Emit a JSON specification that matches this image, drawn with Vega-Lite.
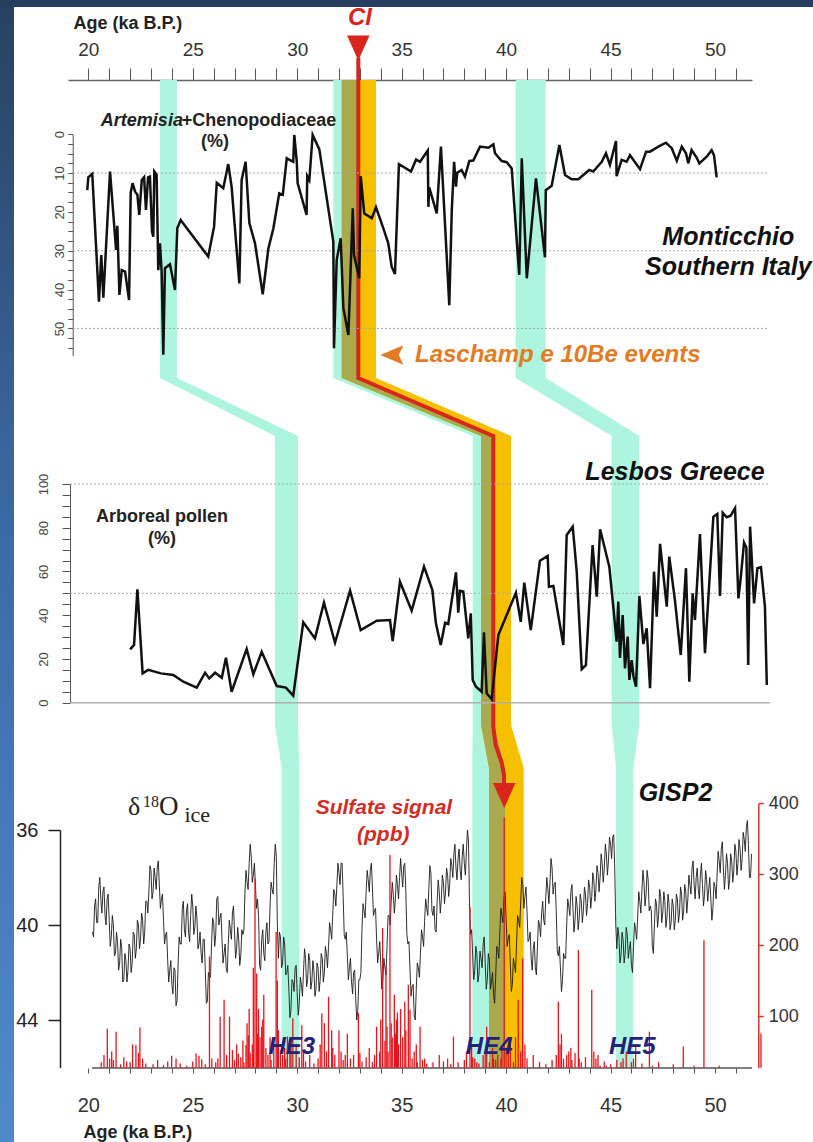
{
"$schema":"https://vega.github.io/schema/vega-lite/v6.json",
"width":684,"height":988,"autosize":"none",
"padding":{"left":68,"top":80,"right":61,"bottom":74},
"background":"white",
"config":{"view":{"stroke":null},"font":"Liberation Sans"},
"resolve":{"scale":{"x":"independent","y":"independent"},"axis":{"x":"independent","y":"independent"}},
"datasets":{
"frameLeft":[{"fx":0,"fx2":14,"fy":0,"fy2":1142}],
"frameTop":[{"fx":0,"fx2":813,"fy":0,"fy2":7}],
"bands":[
{"band":"HE3","fy":80,"a":23.432,"a2":24.246},{"band":"HE3","fy":378,"a":23.432,"a2":24.246},{"band":"HE3","fy":436,"a":28.937,"a2":30.038},{"band":"HE3","fy":725,"a":28.937,"a2":30.038},{"band":"HE3","fy":768,"a":29.258,"a2":30.101},{"band":"HE3","fy":1068,"a":29.258,"a2":30.101},
{"band":"HE4","fy":80,"a":31.728,"a2":32.958},{"band":"HE4","fy":378,"a":31.728,"a2":32.958},{"band":"HE4","fy":436,"a":38.401,"a2":39.421},{"band":"HE4","fy":725,"a":38.401,"a2":39.421},{"band":"HE4","fy":768,"a":38.382,"a2":39.947},{"band":"HE4","fy":1068,"a":38.382,"a2":39.947},
{"band":"HE5","fy":80,"a":40.46,"a2":41.896},{"band":"HE5","fy":378,"a":40.46,"a2":41.896},{"band":"HE5","fy":436,"a":45.055,"a2":46.376},{"band":"HE5","fy":725,"a":45.055,"a2":46.376},{"band":"HE5","fy":768,"a":45.261,"a2":46.089},{"band":"HE5","fy":1068,"a":45.261,"a2":46.089},
{"band":"Laschamp","fy":80,"a":32.13,"a2":33.772},{"band":"Laschamp","fy":378,"a":32.13,"a2":33.772},{"band":"Laschamp","fy":436,"a":38.8,"a2":40.236},{"band":"Laschamp","fy":725,"a":38.8,"a2":40.236},{"band":"Laschamp","fy":768,"a":39.182,"a2":40.843},{"band":"Laschamp","fy":1068,"a":39.182,"a2":40.843},
{"band":"overlap","fy":80,"a":32.13,"a2":32.958},{"band":"overlap","fy":378,"a":32.13,"a2":32.958},{"band":"overlap","fy":436,"a":38.8,"a2":39.421},{"band":"overlap","fy":725,"a":38.8,"a2":39.421},{"band":"overlap","fy":768,"a":39.182,"a2":39.947},{"band":"overlap","fy":1068,"a":39.182,"a2":39.947}
],
"ciLine":[{"a":32.925,"fy":58},{"a":32.925,"fy":378},{"a":39.387,"fy":436},{"a":39.387,"fy":727},{"a":39.5,"fy":745},{"a":39.78,"fy":762},{"a":39.9,"fy":775},{"a":39.9,"fy":790}],
"ciArrows":[{"a":32.925,"fy":48},{"a":39.91,"fy":795.5}],
"lasArrow":[{"a":34.53,"fy":355}],
"monticchio":[
{"a":19.95,"v":14.4},{"a":20.0,"v":11.1},{"a":20.19,"v":10.2},{"a":20.51,"v":43.1},{"a":20.62,"v":31.1},{"a":20.72,"v":42.1},{"a":21.04,"v":9.6},{"a":21.33,"v":29.8},{"a":21.39,"v":23.6},{"a":21.49,"v":41.4},{"a":21.6,"v":35.0},{"a":21.76,"v":35.4},{"a":21.95,"v":42.7},{"a":22.03,"v":15.0},{"a":22.12,"v":12.6},{"a":22.24,"v":14.8},{"a":22.35,"v":15.6},{"a":22.44,"v":20.8},{"a":22.56,"v":11.8},{"a":22.67,"v":11.1},{"a":22.76,"v":19.5},{"a":22.86,"v":11.1},{"a":22.95,"v":10.9},{"a":23.05,"v":25.1},{"a":23.11,"v":26.4},{"a":23.16,"v":9.6},{"a":23.27,"v":10.5},{"a":23.35,"v":35.0},{"a":23.43,"v":28.1},{"a":23.51,"v":35.4},{"a":23.59,"v":56.8},{"a":23.67,"v":34.5},{"a":23.91,"v":33.5},{"a":24.15,"v":40.1},{"a":24.26,"v":24.2},{"a":24.42,"v":22.1},{"a":25.74,"v":31.5},{"a":26.02,"v":23.8},{"a":26.15,"v":12.5},{"a":26.46,"v":13.9},{"a":26.7,"v":7.7},{"a":26.86,"v":13.5},{"a":27.23,"v":38.4},{"a":27.34,"v":11.8},{"a":27.53,"v":7.1},{"a":27.71,"v":22.9},{"a":27.98,"v":28.1},{"a":28.35,"v":41.2},{"a":28.62,"v":29.4},{"a":28.86,"v":24.2},{"a":29.14,"v":15.2},{"a":29.31,"v":15.6},{"a":29.5,"v":6.2},{"a":29.81,"v":7.1},{"a":29.86,"v":0.2},{"a":29.98,"v":7.1},{"a":30.02,"v":12.6},{"a":30.45,"v":20.8},{"a":30.48,"v":10.8},{"a":30.58,"v":11.8},{"a":30.74,"v":0.2},{"a":31.06,"v":3.9},{"a":31.73,"v":27.7},{"a":31.76,"v":55.1},{"a":31.89,"v":32.4},{"a":32.08,"v":26.8},{"a":32.21,"v":44.8},{"a":32.45,"v":51.7},{"a":32.66,"v":19.1},{"a":32.72,"v":31.1},{"a":32.97,"v":37.1},{"a":33.04,"v":10.8},{"a":33.21,"v":20.4},{"a":33.57,"v":21.6},{"a":33.77,"v":18.8},{"a":34.12,"v":24.2},{"a":34.36,"v":28.1},{"a":34.52,"v":34.1},{"a":34.68,"v":36.0},{"a":34.87,"v":7.7},{"a":35.45,"v":9.6},{"a":35.69,"v":6.5},{"a":35.88,"v":7.1},{"a":36.25,"v":4.2},{"a":36.28,"v":18.7},{"a":36.32,"v":13.7},{"a":36.68,"v":20.4},{"a":36.88,"v":3.2},{"a":37.28,"v":44.0},{"a":37.4,"v":19.5},{"a":37.51,"v":7.1},{"a":37.6,"v":13.5},{"a":37.66,"v":9.9},{"a":37.87,"v":9.2},{"a":38.03,"v":10.9},{"a":38.24,"v":6.9},{"a":38.43,"v":6.8},{"a":38.75,"v":3.2},{"a":39.15,"v":3.5},{"a":39.39,"v":2.6},{"a":39.47,"v":4.9},{"a":39.79,"v":6.9},{"a":40.03,"v":7.2},{"a":40.27,"v":8.8},{"a":40.54,"v":29.8},{"a":40.63,"v":36.2},{"a":40.75,"v":6.2},{"a":40.99,"v":37.1},{"a":41.43,"v":11.4},{"a":41.86,"v":31.7},{"a":41.9,"v":14.4},{"a":42.18,"v":13.3},{"a":42.55,"v":2.8},{"a":42.82,"v":10.5},{"a":43.14,"v":11.6},{"a":43.46,"v":11.6},{"a":43.98,"v":9.2},{"a":44.17,"v":9.6},{"a":44.58,"v":7.1},{"a":44.78,"v":4.9},{"a":44.97,"v":7.9},{"a":45.26,"v":1.75},{"a":45.29,"v":10.8},{"a":45.53,"v":6.6},{"a":45.77,"v":7.1},{"a":45.93,"v":5.4},{"a":46.41,"v":9.0},{"a":46.7,"v":4.5},{"a":46.89,"v":4.5},{"a":47.29,"v":3.2},{"a":47.65,"v":2.2},{"a":47.93,"v":3.6},{"a":48.17,"v":6.8},{"a":48.41,"v":3.2},{"a":48.61,"v":4.9},{"a":48.72,"v":7.5},{"a":48.88,"v":4.1},{"a":49.12,"v":6.0},{"a":49.25,"v":7.5},{"a":49.6,"v":5.8},{"a":49.84,"v":4.1},{"a":49.95,"v":5.4},{"a":50.08,"v":11.1}
],
"lesbos":[
{"a":22.0,"v":24.4},{"a":22.19,"v":26.4},{"a":22.35,"v":51.8},{"a":22.6,"v":13.4},{"a":22.87,"v":15.0},{"a":23.47,"v":13.4},{"a":24.07,"v":12.7},{"a":24.55,"v":9.6},{"a":25.19,"v":6.9},{"a":25.59,"v":13.7},{"a":25.79,"v":11.1},{"a":26.07,"v":13.7},{"a":26.39,"v":11.4},{"a":26.59,"v":20.6},{"a":26.86,"v":5.0},{"a":27.58,"v":24.6},{"a":27.9,"v":13.0},{"a":28.3,"v":23.3},{"a":29.02,"v":7.6},{"a":29.46,"v":6.9},{"a":29.81,"v":3.2},{"a":30.29,"v":36.8},{"a":30.85,"v":29.4},{"a":31.28,"v":45.7},{"a":31.81,"v":27.4},{"a":32.53,"v":51.2},{"a":33.04,"v":33.2},{"a":33.81,"v":37.5},{"a":34.44,"v":37.8},{"a":34.57,"v":28.2},{"a":34.92,"v":55.3},{"a":35.48,"v":42.1},{"a":36.07,"v":62.2},{"a":36.47,"v":51.5},{"a":36.64,"v":36.3},{"a":36.87,"v":26.4},{"a":37.08,"v":36.6},{"a":37.23,"v":36.0},{"a":37.6,"v":59.6},{"a":37.71,"v":41.2},{"a":37.79,"v":51.2},{"a":37.95,"v":50.8},{"a":38.19,"v":29.4},{"a":38.31,"v":40.9},{"a":38.4,"v":10.4},{"a":38.56,"v":7.3},{"a":38.83,"v":5.0},{"a":38.94,"v":32.2},{"a":39.07,"v":4.3},{"a":39.31,"v":1.6},{"a":39.63,"v":31.0},{"a":40.47,"v":50.3},{"a":40.7,"v":37.0},{"a":40.87,"v":54.9},{"a":41.18,"v":33.2},{"a":41.62,"v":64.9},{"a":41.99,"v":67.1},{"a":42.05,"v":53.0},{"a":42.26,"v":53.4},{"a":42.74,"v":26.4},{"a":42.9,"v":76.7},{"a":43.19,"v":80.5},{"a":43.38,"v":59.9},{"a":43.62,"v":15.3},{"a":43.82,"v":17.2},{"a":44.14,"v":72.1},{"a":44.34,"v":48.5},{"a":44.5,"v":79.3},{"a":44.94,"v":62.2},{"a":45.13,"v":43.9},{"a":45.29,"v":27.9},{"a":45.37,"v":46.2},{"a":45.45,"v":20.5},{"a":45.58,"v":40.1},{"a":45.69,"v":15.7},{"a":45.82,"v":30.2},{"a":45.9,"v":10.4},{"a":46.01,"v":19.5},{"a":46.1,"v":12.0},{"a":46.22,"v":7.3},{"a":46.38,"v":48.8},{"a":46.57,"v":26.8},{"a":46.73,"v":34.0},{"a":46.89,"v":6.6},{"a":47.08,"v":59.9},{"a":47.21,"v":39.3},{"a":47.37,"v":72.6},{"a":47.69,"v":43.9},{"a":47.81,"v":66.8},{"a":48.08,"v":47.0},{"a":48.36,"v":21.8},{"a":48.61,"v":61.5},{"a":48.77,"v":9.6},{"a":48.93,"v":50.0},{"a":49.04,"v":37.8},{"a":49.28,"v":77.1},{"a":49.52,"v":22.6},{"a":49.92,"v":85.0},{"a":50.11,"v":86.3},{"a":50.24,"v":48.8},{"a":50.37,"v":86.9},{"a":50.56,"v":84.8},{"a":50.75,"v":85.5},{"a":50.96,"v":88.9},{"a":51.12,"v":47.7},{"a":51.23,"v":56.9},{"a":51.39,"v":73.2},{"a":51.5,"v":71.0},{"a":51.59,"v":17.2},{"a":51.68,"v":80.5},{"a":51.87,"v":45.4},{"a":52.03,"v":61.5},{"a":52.2,"v":62.0},{"a":52.39,"v":43.9},{"a":52.48,"v":8.1}
],
"gisp2":[
{"a":20.2,"d":-40.3},{"a":20.25,"d":-40.5},{"a":20.3,"d":-39.2},{"a":20.35,"d":-38.9},{"a":20.4,"d":-39.9},{"a":20.45,"d":-39.9},{"a":20.5,"d":-38.4},{"a":20.55,"d":-38.0},{"a":20.6,"d":-38.9},{"a":20.65,"d":-39.5},{"a":20.7,"d":-38.6},{"a":20.75,"d":-38.4},{"a":20.8,"d":-39.6},{"a":20.85,"d":-40.0},{"a":20.9,"d":-38.9},{"a":20.95,"d":-38.7},{"a":21.0,"d":-39.8},{"a":21.05,"d":-40.9},{"a":21.1,"d":-40.5},{"a":21.15,"d":-39.6},{"a":21.2,"d":-40.0},{"a":21.25,"d":-41.3},{"a":21.3,"d":-41.2},{"a":21.35,"d":-40.3},{"a":21.4,"d":-40.7},{"a":21.45,"d":-41.9},{"a":21.5,"d":-41.6},{"a":21.55,"d":-40.6},{"a":21.6,"d":-41.0},{"a":21.65,"d":-42.4},{"a":21.7,"d":-42.3},{"a":21.75,"d":-41.2},{"a":21.8,"d":-41.5},{"a":21.85,"d":-42.4},{"a":21.9,"d":-41.9},{"a":21.95,"d":-40.8},{"a":22.0,"d":-41.0},{"a":22.05,"d":-42.0},{"a":22.1,"d":-41.6},{"a":22.15,"d":-40.3},{"a":22.2,"d":-40.4},{"a":22.25,"d":-41.4},{"a":22.3,"d":-41.0},{"a":22.35,"d":-39.8},{"a":22.4,"d":-40.0},{"a":22.45,"d":-41.0},{"a":22.5,"d":-40.6},{"a":22.55,"d":-39.5},{"a":22.6,"d":-39.8},{"a":22.65,"d":-40.8},{"a":22.7,"d":-40.3},{"a":22.75,"d":-39.0},{"a":22.8,"d":-39.0},{"a":22.85,"d":-39.5},{"a":22.9,"d":-38.6},{"a":22.95,"d":-37.5},{"a":23.0,"d":-37.7},{"a":23.05,"d":-38.9},{"a":23.1,"d":-38.6},{"a":23.15,"d":-37.6},{"a":23.2,"d":-38.0},{"a":23.25,"d":-38.5},{"a":23.3,"d":-37.6},{"a":23.35,"d":-37.3},{"a":23.4,"d":-38.3},{"a":23.45,"d":-39.3},{"a":23.5,"d":-38.9},{"a":23.55,"d":-38.7},{"a":23.6,"d":-39.8},{"a":23.65,"d":-40.8},{"a":23.7,"d":-40.4},{"a":23.75,"d":-40.3},{"a":23.8,"d":-41.5},{"a":23.85,"d":-42.4},{"a":23.9,"d":-41.9},{"a":23.95,"d":-41.5},{"a":24.0,"d":-42.5},{"a":24.05,"d":-42.9},{"a":24.1,"d":-41.8},{"a":24.15,"d":-41.9},{"a":24.2,"d":-43.4},{"a":24.25,"d":-43.2},{"a":24.3,"d":-41.6},{"a":24.35,"d":-40.5},{"a":24.4,"d":-40.8},{"a":24.45,"d":-40.8},{"a":24.5,"d":-39.3},{"a":24.55,"d":-39.0},{"a":24.6,"d":-40.2},{"a":24.65,"d":-40.5},{"a":24.7,"d":-39.4},{"a":24.75,"d":-39.1},{"a":24.8,"d":-40.3},{"a":24.85,"d":-40.7},{"a":24.9,"d":-39.6},{"a":24.95,"d":-38.7},{"a":25.0,"d":-39.2},{"a":25.05,"d":-40.4},{"a":25.1,"d":-40.1},{"a":25.15,"d":-39.2},{"a":25.2,"d":-39.7},{"a":25.25,"d":-41.0},{"a":25.3,"d":-40.8},{"a":25.35,"d":-40.3},{"a":25.4,"d":-41.2},{"a":25.45,"d":-41.6},{"a":25.5,"d":-40.6},{"a":25.55,"d":-40.6},{"a":25.6,"d":-41.9},{"a":25.65,"d":-43.3},{"a":25.7,"d":-43.2},{"a":25.75,"d":-42.0},{"a":25.8,"d":-42.2},{"a":25.85,"d":-42.2},{"a":25.9,"d":-40.8},{"a":25.95,"d":-39.7},{"a":26.0,"d":-39.9},{"a":26.05,"d":-40.9},{"a":26.1,"d":-40.4},{"a":26.15,"d":-38.9},{"a":26.2,"d":-38.8},{"a":26.25,"d":-40.0},{"a":26.3,"d":-39.7},{"a":26.35,"d":-39.5},{"a":26.4,"d":-40.6},{"a":26.45,"d":-41.6},{"a":26.5,"d":-41.2},{"a":26.55,"d":-40.8},{"a":26.6,"d":-41.8},{"a":26.65,"d":-42.0},{"a":26.7,"d":-40.8},{"a":26.75,"d":-39.8},{"a":26.8,"d":-40.2},{"a":26.85,"d":-40.6},{"a":26.9,"d":-39.5},{"a":26.95,"d":-39.2},{"a":27.0,"d":-40.3},{"a":27.05,"d":-41.4},{"a":27.1,"d":-41.0},{"a":27.15,"d":-40.1},{"a":27.2,"d":-40.6},{"a":27.25,"d":-41.7},{"a":27.3,"d":-41.3},{"a":27.35,"d":-40.2},{"a":27.4,"d":-40.4},{"a":27.45,"d":-40.2},{"a":27.5,"d":-38.6},{"a":27.55,"d":-37.7},{"a":27.6,"d":-38.2},{"a":27.65,"d":-38.5},{"a":27.7,"d":-37.4},{"a":27.75,"d":-36.6},{"a":27.8,"d":-37.1},{"a":27.85,"d":-38.2},{"a":27.9,"d":-37.9},{"a":27.95,"d":-37.4},{"a":28.0,"d":-38.3},{"a":28.05,"d":-39.3},{"a":28.1,"d":-38.9},{"a":28.15,"d":-39.6},{"a":28.2,"d":-41.7},{"a":28.25,"d":-41.9},{"a":28.3,"d":-40.6},{"a":28.35,"d":-40.2},{"a":28.4,"d":-41.2},{"a":28.45,"d":-41.5},{"a":28.5,"d":-40.3},{"a":28.55,"d":-39.9},{"a":28.6,"d":-40.8},{"a":28.65,"d":-40.7},{"a":28.7,"d":-39.2},{"a":28.75,"d":-38.2},{"a":28.8,"d":-38.5},{"a":28.85,"d":-38.7},{"a":28.9,"d":-37.4},{"a":28.95,"d":-36.6},{"a":29.0,"d":-37.1},{"a":29.05,"d":-40.0},{"a":29.1,"d":-41.4},{"a":29.15,"d":-40.3},{"a":29.2,"d":-40.5},{"a":29.25,"d":-41.8},{"a":29.3,"d":-41.6},{"a":29.35,"d":-40.5},{"a":29.4,"d":-40.8},{"a":29.45,"d":-42.1},{"a":29.5,"d":-42.0},{"a":29.55,"d":-41.7},{"a":29.6,"d":-42.7},{"a":29.65,"d":-43.9},{"a":29.7,"d":-43.6},{"a":29.75,"d":-42.3},{"a":29.8,"d":-42.4},{"a":29.85,"d":-42.8},{"a":29.9,"d":-41.8},{"a":29.95,"d":-41.7},{"a":30.0,"d":-42.9},{"a":30.05,"d":-43.8},{"a":30.1,"d":-43.3},{"a":30.15,"d":-42.2},{"a":30.2,"d":-42.5},{"a":30.25,"d":-43.0},{"a":30.3,"d":-42.0},{"a":30.35,"d":-41.0},{"a":30.4,"d":-41.4},{"a":30.45,"d":-42.6},{"a":30.5,"d":-42.3},{"a":30.55,"d":-41.2},{"a":30.6,"d":-41.5},{"a":30.65,"d":-42.7},{"a":30.7,"d":-42.4},{"a":30.75,"d":-41.5},{"a":30.8,"d":-41.9},{"a":30.85,"d":-43.0},{"a":30.9,"d":-42.7},{"a":30.95,"d":-41.6},{"a":31.0,"d":-41.8},{"a":31.05,"d":-42.8},{"a":31.1,"d":-42.3},{"a":31.15,"d":-41.2},{"a":31.2,"d":-41.4},{"a":31.25,"d":-42.4},{"a":31.3,"d":-42.0},{"a":31.35,"d":-40.9},{"a":31.4,"d":-41.2},{"a":31.45,"d":-41.8},{"a":31.5,"d":-40.9},{"a":31.55,"d":-39.9},{"a":31.6,"d":-40.2},{"a":31.65,"d":-40.6},{"a":31.7,"d":-39.6},{"a":31.75,"d":-38.5},{"a":31.8,"d":-38.7},{"a":31.85,"d":-39.2},{"a":31.9,"d":-38.3},{"a":31.95,"d":-37.4},{"a":32.0,"d":-37.8},{"a":32.05,"d":-38.3},{"a":32.1,"d":-37.4},{"a":32.15,"d":-37.4},{"a":32.2,"d":-38.8},{"a":32.25,"d":-40.4},{"a":32.3,"d":-40.6},{"a":32.35,"d":-40.3},{"a":32.4,"d":-41.3},{"a":32.45,"d":-42.3},{"a":32.5,"d":-41.8},{"a":32.55,"d":-41.4},{"a":32.6,"d":-42.4},{"a":32.65,"d":-42.9},{"a":32.7,"d":-42.0},{"a":32.75,"d":-41.9},{"a":32.8,"d":-43.1},{"a":32.85,"d":-44.0},{"a":32.9,"d":-43.6},{"a":32.95,"d":-42.3},{"a":33.0,"d":-42.3},{"a":33.05,"d":-42.0},{"a":33.1,"d":-40.2},{"a":33.15,"d":-39.1},{"a":33.2,"d":-39.4},{"a":33.25,"d":-39.7},{"a":33.3,"d":-38.6},{"a":33.35,"d":-37.7},{"a":33.4,"d":-38.1},{"a":33.45,"d":-38.6},{"a":33.5,"d":-37.7},{"a":33.55,"d":-37.4},{"a":33.6,"d":-38.4},{"a":33.65,"d":-39.6},{"a":33.7,"d":-39.4},{"a":33.75,"d":-39.3},{"a":33.8,"d":-40.6},{"a":33.85,"d":-41.6},{"a":33.9,"d":-41.2},{"a":33.95,"d":-40.7},{"a":34.0,"d":-41.6},{"a":34.05,"d":-42.7},{"a":34.1,"d":-42.3},{"a":34.15,"d":-41.4},{"a":34.2,"d":-41.8},{"a":34.25,"d":-42.1},{"a":34.3,"d":-40.9},{"a":34.35,"d":-39.6},{"a":34.4,"d":-39.6},{"a":34.45,"d":-40.0},{"a":34.5,"d":-39.0},{"a":34.55,"d":-38.2},{"a":34.6,"d":-38.7},{"a":34.65,"d":-39.5},{"a":34.7,"d":-38.9},{"a":34.75,"d":-37.9},{"a":34.8,"d":-38.3},{"a":34.85,"d":-38.9},{"a":34.9,"d":-38.0},{"a":34.95,"d":-37.2},{"a":35.0,"d":-37.8},{"a":35.05,"d":-38.4},{"a":35.1,"d":-37.5},{"a":35.15,"d":-37.4},{"a":35.2,"d":-38.6},{"a":35.25,"d":-40.4},{"a":35.3,"d":-40.8},{"a":35.35,"d":-40.7},{"a":35.4,"d":-41.9},{"a":35.45,"d":-43.0},{"a":35.5,"d":-42.6},{"a":35.55,"d":-42.5},{"a":35.6,"d":-43.8},{"a":35.65,"d":-44.0},{"a":35.7,"d":-42.7},{"a":35.75,"d":-41.6},{"a":35.8,"d":-41.8},{"a":35.85,"d":-42.2},{"a":35.9,"d":-41.2},{"a":35.95,"d":-40.2},{"a":36.0,"d":-40.5},{"a":36.05,"d":-40.9},{"a":36.1,"d":-39.8},{"a":36.15,"d":-38.9},{"a":36.2,"d":-39.3},{"a":36.25,"d":-39.6},{"a":36.3,"d":-38.5},{"a":36.35,"d":-37.5},{"a":36.4,"d":-37.8},{"a":36.45,"d":-39.4},{"a":36.5,"d":-39.6},{"a":36.55,"d":-39.2},{"a":36.6,"d":-40.2},{"a":36.65,"d":-40.3},{"a":36.7,"d":-39.0},{"a":36.75,"d":-38.1},{"a":36.8,"d":-38.6},{"a":36.85,"d":-39.5},{"a":36.9,"d":-38.9},{"a":36.95,"d":-37.9},{"a":37.0,"d":-38.2},{"a":37.05,"d":-39.1},{"a":37.1,"d":-38.6},{"a":37.15,"d":-37.6},{"a":37.2,"d":-37.9},{"a":37.25,"d":-38.8},{"a":37.3,"d":-38.3},{"a":37.35,"d":-37.2},{"a":37.4,"d":-37.5},{"a":37.45,"d":-38.0},{"a":37.5,"d":-37.0},{"a":37.55,"d":-36.6},{"a":37.6,"d":-37.6},{"a":37.65,"d":-38.1},{"a":37.7,"d":-37.2},{"a":37.75,"d":-36.8},{"a":37.8,"d":-37.7},{"a":37.85,"d":-38.1},{"a":37.9,"d":-37.1},{"a":37.95,"d":-36.6},{"a":38.0,"d":-37.4},{"a":38.05,"d":-37.9},{"a":38.1,"d":-36.9},{"a":38.15,"d":-36.0},{"a":38.2,"d":-36.5},{"a":38.25,"d":-39.2},{"a":38.3,"d":-40.4},{"a":38.35,"d":-40.2},{"a":38.4,"d":-41.3},{"a":38.45,"d":-42.3},{"a":38.5,"d":-41.9},{"a":38.55,"d":-40.9},{"a":38.6,"d":-41.2},{"a":38.65,"d":-42.4},{"a":38.7,"d":-42.1},{"a":38.75,"d":-41.1},{"a":38.8,"d":-41.4},{"a":38.85,"d":-41.8},{"a":38.9,"d":-40.8},{"a":38.95,"d":-40.5},{"a":39.0,"d":-41.6},{"a":39.05,"d":-42.7},{"a":39.1,"d":-42.3},{"a":39.15,"d":-41.2},{"a":39.2,"d":-41.5},{"a":39.25,"d":-42.7},{"a":39.3,"d":-42.4},{"a":39.35,"d":-42.0},{"a":39.4,"d":-42.9},{"a":39.45,"d":-43.3},{"a":39.5,"d":-42.2},{"a":39.55,"d":-40.9},{"a":39.6,"d":-41.0},{"a":39.65,"d":-41.4},{"a":39.7,"d":-40.3},{"a":39.75,"d":-39.3},{"a":39.8,"d":-39.6},{"a":39.85,"d":-39.9},{"a":39.9,"d":-38.8},{"a":39.95,"d":-38.6},{"a":40.0,"d":-39.7},{"a":40.05,"d":-40.9},{"a":40.1,"d":-40.6},{"a":40.15,"d":-40.4},{"a":40.2,"d":-41.6},{"a":40.25,"d":-42.8},{"a":40.3,"d":-42.5},{"a":40.35,"d":-41.4},{"a":40.4,"d":-41.7},{"a":40.45,"d":-42.0},{"a":40.5,"d":-40.8},{"a":40.55,"d":-39.6},{"a":40.6,"d":-39.8},{"a":40.65,"d":-40.1},{"a":40.7,"d":-39.0},{"a":40.75,"d":-38.0},{"a":40.8,"d":-38.3},{"a":40.85,"d":-39.3},{"a":40.9,"d":-38.8},{"a":40.95,"d":-38.4},{"a":41.0,"d":-39.4},{"a":41.05,"d":-40.7},{"a":41.1,"d":-40.6},{"a":41.15,"d":-40.3},{"a":41.2,"d":-41.4},{"a":41.25,"d":-41.9},{"a":41.3,"d":-41.0},{"a":41.35,"d":-40.7},{"a":41.4,"d":-41.8},{"a":41.45,"d":-42.1},{"a":41.5,"d":-40.9},{"a":41.55,"d":-39.8},{"a":41.6,"d":-40.0},{"a":41.65,"d":-40.5},{"a":41.7,"d":-39.5},{"a":41.75,"d":-39.0},{"a":41.8,"d":-39.8},{"a":41.85,"d":-40.0},{"a":41.9,"d":-38.8},{"a":41.95,"d":-38.0},{"a":42.0,"d":-38.5},{"a":42.05,"d":-39.1},{"a":42.1,"d":-38.2},{"a":42.15,"d":-37.2},{"a":42.2,"d":-37.6},{"a":42.25,"d":-38.7},{"a":42.3,"d":-38.3},{"a":42.35,"d":-38.2},{"a":42.4,"d":-39.4},{"a":42.45,"d":-41.1},{"a":42.5,"d":-41.3},{"a":42.55,"d":-40.9},{"a":42.6,"d":-41.8},{"a":42.65,"d":-42.8},{"a":42.7,"d":-42.3},{"a":42.75,"d":-41.2},{"a":42.8,"d":-41.4},{"a":42.85,"d":-41.4},{"a":42.9,"d":-40.0},{"a":42.95,"d":-38.9},{"a":43.0,"d":-39.2},{"a":43.05,"d":-39.6},{"a":43.1,"d":-38.6},{"a":43.15,"d":-38.3},{"a":43.2,"d":-39.3},{"a":43.25,"d":-40.3},{"a":43.3,"d":-39.8},{"a":43.35,"d":-38.8},{"a":43.4,"d":-39.2},{"a":43.45,"d":-40.2},{"a":43.5,"d":-39.7},{"a":43.55,"d":-38.7},{"a":43.6,"d":-39.0},{"a":43.65,"d":-39.9},{"a":43.7,"d":-39.4},{"a":43.75,"d":-38.4},{"a":43.8,"d":-38.7},{"a":43.85,"d":-39.6},{"a":43.9,"d":-39.1},{"a":43.95,"d":-38.1},{"a":44.0,"d":-38.4},{"a":44.05,"d":-39.3},{"a":44.1,"d":-38.8},{"a":44.15,"d":-37.8},{"a":44.2,"d":-38.1},{"a":44.25,"d":-39.0},{"a":44.3,"d":-38.5},{"a":44.35,"d":-37.5},{"a":44.4,"d":-37.8},{"a":44.45,"d":-38.6},{"a":44.5,"d":-38.0},{"a":44.55,"d":-37.0},{"a":44.6,"d":-37.4},{"a":44.65,"d":-38.2},{"a":44.7,"d":-37.6},{"a":44.75,"d":-36.6},{"a":44.8,"d":-37.0},{"a":44.85,"d":-37.9},{"a":44.9,"d":-37.3},{"a":44.95,"d":-36.3},{"a":45.0,"d":-36.6},{"a":45.05,"d":-37.2},{"a":45.1,"d":-36.3},{"a":45.15,"d":-36.2},{"a":45.2,"d":-37.6},{"a":45.25,"d":-40.0},{"a":45.3,"d":-41.0},{"a":45.35,"d":-40.1},{"a":45.4,"d":-40.5},{"a":45.45,"d":-41.6},{"a":45.5,"d":-41.3},{"a":45.55,"d":-40.3},{"a":45.6,"d":-40.6},{"a":45.65,"d":-41.6},{"a":45.7,"d":-41.2},{"a":45.75,"d":-40.1},{"a":45.8,"d":-40.4},{"a":45.85,"d":-41.4},{"a":45.9,"d":-41.0},{"a":45.95,"d":-40.7},{"a":46.0,"d":-41.7},{"a":46.05,"d":-42.0},{"a":46.1,"d":-40.9},{"a":46.15,"d":-39.9},{"a":46.2,"d":-40.2},{"a":46.25,"d":-40.6},{"a":46.3,"d":-39.6},{"a":46.35,"d":-38.6},{"a":46.4,"d":-39.0},{"a":46.45,"d":-39.5},{"a":46.5,"d":-38.6},{"a":46.55,"d":-37.7},{"a":46.6,"d":-38.2},{"a":46.65,"d":-39.2},{"a":46.7,"d":-38.7},{"a":46.75,"d":-37.7},{"a":46.8,"d":-38.1},{"a":46.85,"d":-39.4},{"a":46.9,"d":-39.2},{"a":46.95,"d":-39.4},{"a":47.0,"d":-40.9},{"a":47.05,"d":-41.2},{"a":47.1,"d":-40.0},{"a":47.15,"d":-38.9},{"a":47.2,"d":-39.1},{"a":47.25,"d":-40.1},{"a":47.3,"d":-39.6},{"a":47.35,"d":-38.5},{"a":47.4,"d":-38.8},{"a":47.45,"d":-39.9},{"a":47.5,"d":-39.5},{"a":47.55,"d":-38.6},{"a":47.6,"d":-39.0},{"a":47.65,"d":-40.1},{"a":47.7,"d":-39.7},{"a":47.75,"d":-38.7},{"a":47.8,"d":-39.1},{"a":47.85,"d":-40.2},{"a":47.9,"d":-39.9},{"a":47.95,"d":-38.9},{"a":48.0,"d":-39.2},{"a":48.05,"d":-40.2},{"a":48.1,"d":-39.8},{"a":48.15,"d":-38.7},{"a":48.2,"d":-38.9},{"a":48.25,"d":-39.9},{"a":48.3,"d":-39.5},{"a":48.35,"d":-38.4},{"a":48.4,"d":-38.7},{"a":48.45,"d":-39.8},{"a":48.5,"d":-39.4},{"a":48.55,"d":-38.3},{"a":48.6,"d":-38.6},{"a":48.65,"d":-39.5},{"a":48.7,"d":-38.9},{"a":48.75,"d":-37.9},{"a":48.8,"d":-38.3},{"a":48.85,"d":-38.7},{"a":48.9,"d":-37.6},{"a":48.95,"d":-37.3},{"a":49.0,"d":-38.3},{"a":49.05,"d":-38.9},{"a":49.1,"d":-38.0},{"a":49.15,"d":-37.6},{"a":49.2,"d":-38.5},{"a":49.25,"d":-38.9},{"a":49.3,"d":-37.9},{"a":49.35,"d":-37.4},{"a":49.4,"d":-38.3},{"a":49.45,"d":-39.2},{"a":49.5,"d":-38.7},{"a":49.55,"d":-37.7},{"a":49.6,"d":-38.1},{"a":49.65,"d":-39.0},{"a":49.7,"d":-38.5},{"a":49.75,"d":-38.0},{"a":49.8,"d":-38.9},{"a":49.85,"d":-39.8},{"a":49.9,"d":-39.3},{"a":49.95,"d":-38.2},{"a":50.0,"d":-38.4},{"a":50.05,"d":-38.9},{"a":50.1,"d":-37.9},{"a":50.15,"d":-36.9},{"a":50.2,"d":-37.3},{"a":50.25,"d":-37.8},{"a":50.3,"d":-36.8},{"a":50.35,"d":-36.5},{"a":50.4,"d":-37.6},{"a":50.45,"d":-38.5},{"a":50.5,"d":-37.9},{"a":50.55,"d":-37.0},{"a":50.6,"d":-37.4},{"a":50.65,"d":-38.5},{"a":50.7,"d":-38.1},{"a":50.75,"d":-37.0},{"a":50.8,"d":-37.3},{"a":50.85,"d":-38.2},{"a":50.9,"d":-37.7},{"a":50.95,"d":-36.6},{"a":51.0,"d":-36.9},{"a":51.05,"d":-37.9},{"a":51.1,"d":-37.4},{"a":51.15,"d":-36.4},{"a":51.2,"d":-36.8},{"a":51.25,"d":-37.7},{"a":51.3,"d":-37.2},{"a":51.35,"d":-36.1},{"a":51.4,"d":-36.4},{"a":51.45,"d":-36.9},{"a":51.5,"d":-35.9},{"a":51.55,"d":-35.6},{"a":51.6,"d":-36.6},{"a":51.65,"d":-38.0},{"a":51.7,"d":-38.0},{"a":51.75,"d":-37.0}
],
"sulfate":[
{"a":20.62,"s":35},{"a":20.75,"s":45},{"a":20.91,"s":82},{"a":21.02,"s":40},{"a":21.12,"s":50},{"a":21.2,"s":38},{"a":21.33,"s":78},{"a":21.55,"s":32},{"a":21.7,"s":42},{"a":21.84,"s":36},{"a":22.0,"s":35},{"a":22.12,"s":60},{"a":22.28,"s":59},{"a":22.4,"s":48},{"a":22.47,"s":84},{"a":22.6,"s":40},{"a":22.75,"s":33},{"a":23.1,"s":32},{"a":23.32,"s":38},{"a":23.6,"s":31},{"a":23.8,"s":36},{"a":23.99,"s":44},{"a":24.2,"s":40},{"a":24.4,"s":33},{"a":24.71,"s":30},{"a":25.0,"s":36},{"a":25.16,"s":47},{"a":25.3,"s":44},{"a":25.43,"s":39},{"a":25.6,"s":32},{"a":25.8,"s":184},{"a":25.91,"s":40},{"a":26.1,"s":35},{"a":26.2,"s":40},{"a":26.31,"s":99},{"a":26.5,"s":123},{"a":26.62,"s":45},{"a":26.76,"s":99},{"a":26.9,"s":52},{"a":27.0,"s":38},{"a":27.1,"s":60},{"a":27.18,"s":47},{"a":27.3,"s":42},{"a":27.4,"s":65},{"a":27.45,"s":35},{"a":27.55,"s":59},{"a":27.6,"s":90},{"a":27.66,"s":73},{"a":27.7,"s":110},{"a":27.75,"s":48},{"a":27.85,"s":60},{"a":27.9,"s":168},{"a":27.98,"s":294},{"a":28.06,"s":160},{"a":28.1,"s":75},{"a":28.15,"s":110},{"a":28.22,"s":70},{"a":28.3,"s":85},{"a":28.35,"s":95},{"a":28.4,"s":130},{"a":28.5,"s":55},{"a":28.6,"s":45},{"a":28.7,"s":70},{"a":28.75,"s":38},{"a":28.88,"s":60},{"a":28.99,"s":219},{"a":29.05,"s":150},{"a":29.1,"s":80},{"a":29.2,"s":52},{"a":29.3,"s":45},{"a":29.4,"s":55},{"a":29.45,"s":40},{"a":29.53,"s":71},{"a":29.65,"s":48},{"a":29.7,"s":60},{"a":29.79,"s":97},{"a":29.95,"s":60},{"a":30.1,"s":42},{"a":30.22,"s":87},{"a":30.3,"s":50},{"a":30.4,"s":36},{"a":30.6,"s":45},{"a":30.8,"s":33},{"a":31.0,"s":40},{"a":31.1,"s":60},{"a":31.18,"s":104},{"a":31.3,"s":90},{"a":31.4,"s":50},{"a":31.5,"s":127},{"a":31.65,"s":80},{"a":31.7,"s":55},{"a":31.8,"s":45},{"a":32.0,"s":80},{"a":32.1,"s":50},{"a":32.2,"s":38},{"a":32.3,"s":45},{"a":32.4,"s":75},{"a":32.55,"s":40},{"a":32.7,"s":45},{"a":32.93,"s":104},{"a":33.0,"s":48},{"a":33.1,"s":36},{"a":33.3,"s":42},{"a":33.45,"s":55},{"a":33.6,"s":35},{"a":33.7,"s":45},{"a":33.8,"s":85},{"a":33.95,"s":50},{"a":34.0,"s":95},{"a":34.09,"s":224},{"a":34.2,"s":65},{"a":34.25,"s":170},{"a":34.3,"s":85},{"a":34.35,"s":50},{"a":34.44,"s":327},{"a":34.5,"s":90},{"a":34.55,"s":70},{"a":34.65,"s":130},{"a":34.7,"s":75},{"a":34.75,"s":95},{"a":34.8,"s":105},{"a":34.85,"s":60},{"a":34.95,"s":110},{"a":35.05,"s":70},{"a":35.15,"s":120},{"a":35.2,"s":80},{"a":35.32,"s":144},{"a":35.4,"s":109},{"a":35.5,"s":40},{"a":35.6,"s":50},{"a":35.7,"s":60},{"a":35.75,"s":35},{"a":35.88,"s":85},{"a":36.0,"s":38},{"a":36.1,"s":40},{"a":36.2,"s":33},{"a":36.5,"s":35},{"a":36.8,"s":45},{"a":37.0,"s":36},{"a":37.2,"s":40},{"a":37.35,"s":32},{"a":37.48,"s":71},{"a":37.7,"s":35},{"a":38.0,"s":38},{"a":38.1,"s":50},{"a":38.27,"s":254},{"a":38.35,"s":60},{"a":38.4,"s":42},{"a":38.5,"s":40},{"a":38.6,"s":35},{"a":38.7,"s":33},{"a":38.9,"s":45},{"a":39.0,"s":50},{"a":39.07,"s":85},{"a":39.2,"s":35},{"a":39.35,"s":55},{"a":39.4,"s":40},{"a":39.5,"s":38},{"a":39.6,"s":45},{"a":39.75,"s":40},{"a":39.8,"s":60},{"a":39.91,"s":380},{"a":40.0,"s":55},{"a":40.1,"s":48},{"a":40.2,"s":60},{"a":40.35,"s":35},{"a":40.45,"s":70},{"a":40.58,"s":123},{"a":40.7,"s":50},{"a":40.79,"s":181},{"a":40.9,"s":60},{"a":41.0,"s":40},{"a":41.3,"s":45},{"a":41.6,"s":35},{"a":41.9,"s":32},{"a":42.2,"s":38},{"a":42.4,"s":45},{"a":42.5,"s":120},{"a":42.58,"s":60},{"a":42.65,"s":75},{"a":42.75,"s":40},{"a":42.9,"s":45},{"a":43.0,"s":50},{"a":43.1,"s":55},{"a":43.15,"s":38},{"a":43.3,"s":48},{"a":43.46,"s":193},{"a":43.5,"s":40},{"a":43.6,"s":35},{"a":43.8,"s":42},{"a":44.1,"s":137},{"a":44.2,"s":50},{"a":44.3,"s":40},{"a":44.4,"s":45},{"a":44.5,"s":30},{"a":44.7,"s":36},{"a":44.8,"s":30},{"a":45.0,"s":32},{"a":45.3,"s":38},{"a":45.5,"s":35},{"a":45.6,"s":40},{"a":45.75,"s":50},{"a":46.0,"s":35},{"a":46.1,"s":40},{"a":46.2,"s":60},{"a":46.5,"s":33},{"a":46.86,"s":78},{"a":47.0,"s":30},{"a":47.3,"s":35},{"a":48.0,"s":32},{"a":48.48,"s":57},{"a":49.0,"s":30},{"a":49.47,"s":207},{"a":50.2,"s":30},{"a":52.2,"s":75}
],
"monGrid":[{"g":10},{"g":30},{"g":50}],
"lesGrid":[{"g":50},{"g":100}],
"lesBase":[{"g":0}],
"siteNames":[{"t":"Monticchio","a":50.637,"fy":236.7},{"t":"Southern Italy","a":50.637,"fy":266.7},{"t":"Lesbos Greece","a":48.085,"fy":471.7},{"t":"GISP2","a":48.109,"fy":792.7}],
"proxyLabels":[{"t":"+Chenopodiaceae","a":28.169,"fy":120.5},{"t":"(%)","a":26.065,"fy":141.7},{"t":"Arboreal pollen","a":23.528,"fy":516.7},{"t":"(%)","a":23.528,"fy":539}],
"italicLabels":[{"t":"Artemisia","a":22.564,"fy":120.5}],
"ciLabel":[{"t":"CI","a":33.006,"fy":18}],
"sulfLabel":[{"t":"Sulfate signal","a":34.15,"fy":808},{"t":"(ppb)","a":34.12,"fy":835}],
"lasLabel":[{"t":"Laschamp e 10Be events","a":35.639,"fy":355}],
"heLabels":[{"t":"HE3","a":29.74,"fy":1046.7},{"t":"HE4","a":39.19,"fy":1046.7},{"t":"HE5","a":46.04,"fy":1046.7}],
"deltaSym":[{"t":"δ","a":21.9,"fy":815}],
"deltaSup":[{"t":"18","a":22.62,"fy":807}],
"deltaO":[{"t":"O","a":23.38,"fy":815}],
"deltaSub":[{"t":"ice","a":24.6,"fy":822}]
},
"layer":[
{"data":{"name":"frameLeft"},"mark":{"type":"rect","fill":{"gradient":"linear","x1":0,"y1":0,"x2":0,"y2":1,"stops":[{"offset":0,"color":"#28415f"},{"offset":0.4,"color":"#3a659e"},{"offset":0.7,"color":"#4579b9"},{"offset":1,"color":"#5089c9"}]}},
 "encoding":{"x":{"field":"fx","type":"quantitative","scale":{"domain":[0,813],"range":[-68,745],"nice":false,"zero":false},"axis":null},"x2":{"field":"fx2"},"y":{"field":"fy","type":"quantitative","scale":{"domain":[0,1142],"range":[-80,1062],"nice":false,"zero":false},"axis":null},"y2":{"field":"fy2"}}},
{"data":{"name":"frameTop"},"mark":{"type":"rect","fill":"#263f5f"},
 "encoding":{"x":{"field":"fx","type":"quantitative","scale":{"domain":[0,813],"range":[-68,745],"nice":false,"zero":false},"axis":null},"x2":{"field":"fx2"},"y":{"field":"fy","type":"quantitative","scale":{"domain":[0,1142],"range":[-80,1062],"nice":false,"zero":false},"axis":null},"y2":{"field":"fy2"}}},
{"data":{"name":"bands"},"transform":[{"filter":"datum.band === 'HE3' || datum.band === 'HE4' || datum.band === 'HE5'"}],
 "mark":{"type":"area","orient":"horizontal","color":"#aef5e0"},
 "encoding":{"y":{"field":"fy","type":"quantitative","scale":{"domain":[80,1068],"range":[0,988],"nice":false,"zero":false},"axis":null},"x":{"field":"a","type":"quantitative","scale":{"domain":[19.028,51.771],"nice":false,"zero":false},"axis":null},"x2":{"field":"a2"},"detail":{"field":"band"}}},
{"data":{"name":"bands"},"transform":[{"filter":"datum.band === 'Laschamp'"}],
 "mark":{"type":"area","orient":"horizontal","color":"#f6c000"},
 "encoding":{"y":{"field":"fy","type":"quantitative","scale":{"domain":[80,1068],"range":[0,988],"nice":false,"zero":false},"axis":null},"x":{"field":"a","type":"quantitative","scale":{"domain":[19.028,51.771],"nice":false,"zero":false},"axis":null},"x2":{"field":"a2"}}},
{"data":{"name":"bands"},"transform":[{"filter":"datum.band === 'overlap'"}],
 "mark":{"type":"area","orient":"horizontal","color":"#aaaa4c"},
 "encoding":{"y":{"field":"fy","type":"quantitative","scale":{"domain":[80,1068],"range":[0,988],"nice":false,"zero":false},"axis":null},"x":{"field":"a","type":"quantitative","scale":{"domain":[19.028,51.771],"nice":false,"zero":false},"axis":null},"x2":{"field":"a2"}}},
{"data":{"name":"ciLine"},"mark":{"type":"line","color":"#d8261d","strokeWidth":4,"strokeJoin":"miter"},
 "encoding":{"y":{"field":"fy","type":"quantitative","scale":{"domain":[80,1068],"range":[0,988],"nice":false,"zero":false},"axis":null},"x":{"field":"a","type":"quantitative","scale":{"domain":[19.028,51.771],"nice":false,"zero":false},"axis":null},"order":{"field":"fy"}}},
{"data":{"name":"ciArrows"},"mark":{"type":"point","shape":"M-0.9,-1L0.9,-1L0,1Z","filled":true,"color":"#d8261d","opacity":1,"size":625,"strokeWidth":0},
 "encoding":{"y":{"field":"fy","type":"quantitative","scale":{"domain":[80,1068],"range":[0,988],"nice":false,"zero":false},"axis":null},"x":{"field":"a","type":"quantitative","scale":{"domain":[19.028,51.771],"nice":false,"zero":false},"axis":null}}},
{"data":{"name":"lasArrow"},"mark":{"type":"point","shape":"M-1,0L1,-0.85L0.6,0L1,0.85Z","filled":true,"color":"#e47b22","opacity":1,"size":529,"strokeWidth":0},
 "encoding":{"y":{"field":"fy","type":"quantitative","scale":{"domain":[80,1068],"range":[0,988],"nice":false,"zero":false},"axis":null},"x":{"field":"a","type":"quantitative","scale":{"domain":[19.028,51.771],"nice":false,"zero":false},"axis":null}}},
{"data":{"name":"monGrid"},"mark":{"type":"rule","color":"#aaaaaa","strokeDash":[2,2],"strokeWidth":1},
 "encoding":{"y":{"field":"g","type":"quantitative","scale":{"domain":[0,57],"range":[54.2,275.6],"nice":false,"zero":false},"axis":null},"x":{"datum":19.268,"type":"quantitative","scale":{"domain":[19.028,51.771],"nice":false,"zero":false},"axis":null},"x2":{"datum":52.536}}},
{"data":{"name":"lesGrid"},"mark":{"type":"rule","color":"#aaaaaa","strokeDash":[2,2],"strokeWidth":1},
 "encoding":{"y":{"field":"g","type":"quantitative","scale":{"domain":[0,100],"range":[622.7,404],"nice":false,"zero":false},"axis":null},"x":{"datum":19.124,"type":"quantitative","scale":{"domain":[19.028,51.771],"nice":false,"zero":false},"axis":null},"x2":{"datum":52.63}}},
{"data":{"name":"lesBase"},"mark":{"type":"rule","color":"#b0b0b0","strokeWidth":1.5},
 "encoding":{"y":{"field":"g","type":"quantitative","scale":{"domain":[0,100],"range":[622.7,404],"nice":false,"zero":false},"axis":null},"x":{"datum":19.124,"type":"quantitative","scale":{"domain":[19.028,51.771],"nice":false,"zero":false},"axis":null},"x2":{"datum":52.63}}},
{"data":{"values":[{}]},"mark":{"type":"rule","color":"#555555","strokeWidth":1.5},
 "encoding":{"y":{"datum":1068,"type":"quantitative","scale":{"domain":[80,1068],"range":[0,988],"nice":false,"zero":false},"axis":null},"x":{"datum":20.18,"type":"quantitative","scale":{"domain":[19.028,51.771],"nice":false,"zero":false},"axis":null},"x2":{"datum":51.771}}},
{"data":{"name":"monticchio"},"mark":{"type":"line","color":"#111111","strokeWidth":2.5,"strokeJoin":"miter"},
 "encoding":{"x":{"field":"a","type":"quantitative","scale":{"domain":[19.028,51.771],"nice":false,"zero":false},
   "axis":{"orient":"top","values":[20,21,22,23,24,25,26,27,28,29,30,31,32,33,34,35,36,37,38,39,40,41,42,43,44,45,46,47,48,49,50,51],"labelExpr":"datum.value % 5 === 0 ? datum.label : ''","tickSize":12,"tickColor":"#555555","tickWidth":1,"domainColor":"#666666","domainWidth":1.5,"labelFontSize":19,"labelColor":"#333333","labelPadding":9,"labelFlush":false,"labelOverlap":false,"grid":false,"title":"Age (ka B.P.)","titleFontSize":18,"titleFontWeight":"bold","titleColor":"#222222","titleAnchor":"start","titleAlign":"left","titleBaseline":"middle","titleX":5,"titleY":-57}},
  "y":{"field":"v","type":"quantitative","scale":{"domain":[0,57],"range":[54.2,275.6],"nice":false,"zero":false},
   "axis":{"orient":"left","offset":-4.7,"values":[0,2.5,5,7.5,10,12.5,15,17.5,20,22.5,25,27.5,30,32.5,35,37.5,40,42.5,45,47.5,50,52.5,55],"labelExpr":"datum.value % 10 === 0 ? datum.label : ''","labelAngle":-90,"labelAlign":"center","labelBaseline":"bottom","labelFontSize":13,"labelColor":"#444444","labelPadding":1,"labelOverlap":false,"labelFlush":false,"tickSize":5,"tickColor":"#555555","domainColor":"#555555","grid":false,"title":null}}}},
{"data":{"name":"lesbos"},"mark":{"type":"line","color":"#111111","strokeWidth":2.5,"strokeJoin":"miter"},
 "encoding":{"x":{"field":"a","type":"quantitative","scale":{"domain":[19.028,51.771],"nice":false,"zero":false},"axis":null},
  "y":{"field":"v","type":"quantitative","scale":{"domain":[0,100],"range":[622.7,404],"nice":false,"zero":false},
   "axis":{"orient":"left","offset":-2,"values":[0,5,10,15,20,25,30,35,40,45,50,55,60,65,70,75,80,85,90,95,100],"labelExpr":"datum.value % 20 === 0 ? datum.label : ''","labelAngle":-90,"labelAlign":"center","labelBaseline":"bottom","labelFontSize":13,"labelColor":"#444444","labelPadding":12,"labelOverlap":false,"labelFlush":false,"tickSize":8,"tickColor":"#555555","domainColor":"#555555","grid":false,"title":null}}}},
{"data":{"name":"gisp2"},"mark":{"type":"line","color":"#1a1a1a","strokeWidth":0.9},
 "encoding":{"x":{"field":"a","type":"quantitative","scale":{"domain":[19.028,51.771],"nice":false,"zero":false},
   "axis":{"orient":"bottom","domain":false,"values":[20,21,22,23,24,25,26,27,28,29,30,31,32,33,34,35,36,37,38,39,40,41,42,43,44,45,46,47,48,49,50,51],"labelExpr":"datum.value % 5 === 0 ? datum.label : ''","tickSize":5,"tickColor":"#555555","labelFontSize":20,"labelColor":"#333333","labelPadding":22,"labelFlush":false,"labelOverlap":false,"grid":false,"title":"Age (ka B.P.)","titleFontSize":18,"titleFontWeight":"bold","titleColor":"#222222","titleAnchor":"start","titleAlign":"left","titleBaseline":"middle","titleX":15,"titleY":64}},
  "y":{"field":"d","type":"quantitative","scale":{"domain":[-46,-36],"range":[987.5,750],"nice":false,"zero":false},
   "axis":{"orient":"left","offset":8,"values":[-36,-40,-44],"labelExpr":"format(-datum.value, 'd')","labelFontSize":20,"labelColor":"#222222","labelPadding":10,"tickSize":12,"tickColor":"#222222","tickWidth":1.5,"domainColor":"#222222","domainWidth":1.5,"grid":false,"title":null}}}},
{"data":{"name":"sulfate"},"mark":{"type":"rule","color":"#e8141b","strokeWidth":1.3},
 "encoding":{"x":{"field":"a","type":"quantitative","scale":{"domain":[19.028,51.771],"nice":false,"zero":false},"axis":null},
  "y":{"field":"s","type":"quantitative","scale":{"domain":[27,400],"range":[987.8,723.3],"nice":false,"zero":false},
   "axis":{"orient":"right","offset":6.3,"values":[100,200,300,400],"labelFontSize":18,"labelColor":"#333333","labelPadding":5,"tickSize":5,"tickColor":"#d9342b","tickWidth":1.5,"domainColor":"#d9342b","domainWidth":1.5,"grid":false,"title":null}},
  "y2":{"datum":27}}},
{"data":{"name":"siteNames"},"mark":{"type":"text","font":"Liberation Sans","fontSize":25,"fontWeight":"bold","fontStyle":"italic","color":"#111111","align":"center","baseline":"middle"},
 "encoding":{"text":{"field":"t"},"y":{"field":"fy","type":"quantitative","scale":{"domain":[80,1068],"range":[0,988],"nice":false,"zero":false},"axis":null},"x":{"field":"a","type":"quantitative","scale":{"domain":[19.028,51.771],"nice":false,"zero":false},"axis":null}}},
{"data":{"name":"proxyLabels"},"mark":{"type":"text","font":"Liberation Sans","fontSize":18,"fontWeight":"bold","color":"#222222","align":"center","baseline":"middle"},
 "encoding":{"text":{"field":"t"},"y":{"field":"fy","type":"quantitative","scale":{"domain":[80,1068],"range":[0,988],"nice":false,"zero":false},"axis":null},"x":{"field":"a","type":"quantitative","scale":{"domain":[19.028,51.771],"nice":false,"zero":false},"axis":null}}},
{"data":{"name":"italicLabels"},"mark":{"type":"text","font":"Liberation Sans","fontSize":18,"fontWeight":"bold","fontStyle":"italic","color":"#222222","align":"center","baseline":"middle"},
 "encoding":{"text":{"field":"t"},"y":{"field":"fy","type":"quantitative","scale":{"domain":[80,1068],"range":[0,988],"nice":false,"zero":false},"axis":null},"x":{"field":"a","type":"quantitative","scale":{"domain":[19.028,51.771],"nice":false,"zero":false},"axis":null}}},
{"data":{"name":"ciLabel"},"mark":{"type":"text","font":"Liberation Sans","fontSize":24,"fontWeight":"bold","fontStyle":"italic","color":"#d8261d","align":"center","baseline":"middle"},
 "encoding":{"text":{"field":"t"},"y":{"field":"fy","type":"quantitative","scale":{"domain":[80,1068],"range":[0,988],"nice":false,"zero":false},"axis":null},"x":{"field":"a","type":"quantitative","scale":{"domain":[19.028,51.771],"nice":false,"zero":false},"axis":null}}},
{"data":{"name":"sulfLabel"},"mark":{"type":"text","font":"Liberation Sans","fontSize":21,"fontWeight":"bold","fontStyle":"italic","color":"#d42b22","align":"center","baseline":"middle"},
 "encoding":{"text":{"field":"t"},"y":{"field":"fy","type":"quantitative","scale":{"domain":[80,1068],"range":[0,988],"nice":false,"zero":false},"axis":null},"x":{"field":"a","type":"quantitative","scale":{"domain":[19.028,51.771],"nice":false,"zero":false},"axis":null}}},
{"data":{"name":"lasLabel"},"mark":{"type":"text","font":"Liberation Sans","fontSize":24,"fontWeight":"bold","fontStyle":"italic","color":"#e47b22","align":"left","baseline":"middle"},
 "encoding":{"text":{"field":"t"},"y":{"field":"fy","type":"quantitative","scale":{"domain":[80,1068],"range":[0,988],"nice":false,"zero":false},"axis":null},"x":{"field":"a","type":"quantitative","scale":{"domain":[19.028,51.771],"nice":false,"zero":false},"axis":null}}},
{"data":{"name":"heLabels"},"mark":{"type":"text","font":"Liberation Sans","fontSize":24,"fontWeight":"bold","fontStyle":"italic","color":"#22227a","align":"center","baseline":"middle"},
 "encoding":{"text":{"field":"t"},"y":{"field":"fy","type":"quantitative","scale":{"domain":[80,1068],"range":[0,988],"nice":false,"zero":false},"axis":null},"x":{"field":"a","type":"quantitative","scale":{"domain":[19.028,51.771],"nice":false,"zero":false},"axis":null}}},
{"data":{"name":"deltaSym"},"mark":{"type":"text","font":"Liberation Serif","fontSize":26,"color":"#222222","align":"left","baseline":"alphabetic"},
 "encoding":{"text":{"field":"t"},"y":{"field":"fy","type":"quantitative","scale":{"domain":[80,1068],"range":[0,988],"nice":false,"zero":false},"axis":null},"x":{"field":"a","type":"quantitative","scale":{"domain":[19.028,51.771],"nice":false,"zero":false},"axis":null}}},
{"data":{"name":"deltaSup"},"mark":{"type":"text","font":"Liberation Serif","fontSize":16,"color":"#222222","align":"left","baseline":"alphabetic"},
 "encoding":{"text":{"field":"t"},"y":{"field":"fy","type":"quantitative","scale":{"domain":[80,1068],"range":[0,988],"nice":false,"zero":false},"axis":null},"x":{"field":"a","type":"quantitative","scale":{"domain":[19.028,51.771],"nice":false,"zero":false},"axis":null}}},
{"data":{"name":"deltaO"},"mark":{"type":"text","font":"Liberation Serif","fontSize":27,"color":"#222222","align":"left","baseline":"alphabetic"},
 "encoding":{"text":{"field":"t"},"y":{"field":"fy","type":"quantitative","scale":{"domain":[80,1068],"range":[0,988],"nice":false,"zero":false},"axis":null},"x":{"field":"a","type":"quantitative","scale":{"domain":[19.028,51.771],"nice":false,"zero":false},"axis":null}}},
{"data":{"name":"deltaSub"},"mark":{"type":"text","font":"Liberation Serif","fontSize":22,"color":"#222222","align":"left","baseline":"alphabetic"},
 "encoding":{"text":{"field":"t"},"y":{"field":"fy","type":"quantitative","scale":{"domain":[80,1068],"range":[0,988],"nice":false,"zero":false},"axis":null},"x":{"field":"a","type":"quantitative","scale":{"domain":[19.028,51.771],"nice":false,"zero":false},"axis":null}}}
]
}
